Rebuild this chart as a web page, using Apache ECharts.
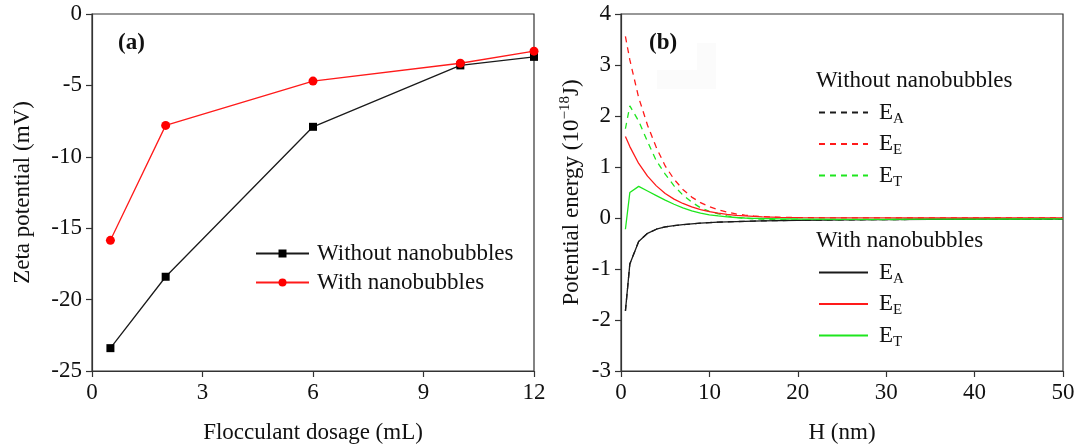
<!DOCTYPE html>
<html>
<head>
<meta charset="utf-8">
<script src="https://cdn.jsdelivr.net/npm/echarts@6/dist/echarts.min.js"></script>
<style>
  html, body { margin: 0; padding: 0; background: #fff; }
  #chart { width: 1081px; height: 446px; }
</style>
</head>
<body>
<div id="chart"></div>
<script>
// Panel (a): zeta potential against flocculant dosage
const dosage = [0.5, 2, 6, 10, 12];
const zetaWithout = [-23.4, -18.4, -7.9, -3.6, -3.0];
const zetaWith = [-15.85, -7.8, -4.7, -3.45, -2.6];

// Panel (b): interaction energy (1e-18 J) against separation H (nm)
const H = [0.5, 1, 2, 3, 4, 5, 6, 7, 8, 9, 10, 11, 12, 13, 14, 15, 16, 18, 20, 25, 30, 35, 40, 45, 50];
// van der Waals attraction, same for both cases
const eaWithout = [-1.82, -0.9, -0.46, -0.3, -0.22, -0.175, -0.15, -0.13, -0.115, -0.1, -0.09, -0.082, -0.076, -0.07, -0.065, -0.06, -0.056, -0.05, -0.045, -0.037, -0.031, -0.027, -0.023, -0.021, -0.019];
const eeWithout = [3.56, 3.1, 2.36, 1.82, 1.38, 1.02, 0.76, 0.56, 0.41, 0.3, 0.22, 0.16, 0.115, 0.08, 0.056, 0.04, 0.028, 0.014, 0.007, 0.002, 0.001, 0, 0, 0, 0];
const etWithout = [1.75, 2.2, 1.9, 1.5, 1.12, 0.86, 0.63, 0.45, 0.31, 0.2, 0.13, 0.08, 0.04, 0.012, -0.006, -0.016, -0.024, -0.033, -0.036, -0.034, -0.03, -0.027, -0.023, -0.021, -0.019];
const eaWith = [-1.82, -0.9, -0.46, -0.3, -0.22, -0.175, -0.15, -0.13, -0.115, -0.1, -0.09, -0.082, -0.076, -0.07, -0.065, -0.06, -0.056, -0.05, -0.045, -0.037, -0.031, -0.027, -0.023, -0.021, -0.019];
const eeWith = [1.6, 1.4, 1.07, 0.82, 0.63, 0.48, 0.37, 0.285, 0.22, 0.165, 0.125, 0.095, 0.07, 0.052, 0.04, 0.03, 0.022, 0.012, 0.007, 0.002, 0.001, 0, 0, 0, 0];
const etWith = [-0.22, 0.5, 0.62, 0.53, 0.44, 0.35, 0.27, 0.2, 0.14, 0.095, 0.06, 0.04, 0.022, 0.01, 0, -0.006, -0.01, -0.016, -0.02, -0.025, -0.025, -0.023, -0.021, -0.02, -0.019];

const FONT = '"Liberation Serif", "Times New Roman", serif';
const AXIS_COLOR = '#333';
const RED = '#ff1a1a';
const GREEN = '#1ee61e';
const BLACK = '#1a1a1a';

const pair = (xs, ys) => xs.map((x, i) => [x, ys[i]]);

function axisCommon(extra) {
  return Object.assign({
    type: 'value',
    splitLine: { show: false },
    axisLine: { show: true, onZero: false, lineStyle: { color: AXIS_COLOR, width: 1.2 } },
    axisTick: { show: true, inside: false, length: 6, lineStyle: { color: AXIS_COLOR, width: 1.2 } },
    axisLabel: { color: '#111', fontFamily: FONT, fontSize: 23, margin: 10 },
    nameTextStyle: { color: '#111', fontFamily: FONT, fontSize: 23 },
    nameLocation: 'middle'
  }, extra);
}

const subRich = {
  e: { fontFamily: FONT, fontSize: 23, color: '#111', lineHeight: 28, verticalAlign: 'middle' },
  s: { fontFamily: FONT, fontSize: 15, color: '#111', lineHeight: 28, verticalAlign: 'bottom' }
};
const subLabel = { 'A': '{e|E}{s|A}', 'E': '{e|E}{s|E}', 'T': '{e|E}{s|T}' };

// legend entries of panel (b) show only the line sample, no marker
const energyLegend = (top, names) => ({
  orient: 'vertical', left: 813, top: top,
  itemWidth: 49, itemHeight: 10, itemGap: 6,
  itemStyle: { opacity: 0 },
  formatter: n => subLabel[n.slice(-1)],
  textStyle: { padding: [0, 0, 0, 6], rich: subRich },
  data: names
});

const gridBox = left => ({
  left: left, top: 14, width: 442, height: 357,
  outerBoundsMode: 'none', containLabel: false,
  show: true, borderColor: AXIS_COLOR, borderWidth: 1.2, backgroundColor: 'transparent'
});

const chart = echarts.init(document.getElementById('chart'), null, { renderer: 'canvas' });

chart.setOption({
  backgroundColor: '#fff',
  animation: false,
  grid: [gridBox(92), gridBox(621)],
  xAxis: [
    axisCommon({ gridIndex: 0, min: 0, max: 12, interval: 3, name: 'Flocculant dosage (mL)', nameGap: 50 }),
    axisCommon({ gridIndex: 1, min: 0, max: 50, interval: 10, name: 'H (nm)', nameGap: 50 })
  ],
  yAxis: [
    axisCommon({ gridIndex: 0, min: -25, max: 0, interval: 5, name: 'Zeta potential (mV)', nameGap: 58 }),
    axisCommon({
      gridIndex: 1, min: -3, max: 4, interval: 1, nameGap: 35,
      name: 'Potential energy (10{sup|\u221218}J)',
      nameTextStyle: {
        color: '#111', fontFamily: FONT, fontSize: 23,
        rich: {
          sup: { fontFamily: FONT, fontSize: 15, color: '#111', verticalAlign: 'top', lineHeight: 28 }
        }
      }
    })
  ],
  legend: [
    {
      orient: 'vertical', left: 250, top: 236,
      itemWidth: 53, itemHeight: 10, itemGap: 4,
      textStyle: { fontFamily: FONT, fontSize: 23, color: '#111', lineHeight: 25, padding: [0, 0, 0, 3] },
      data: ['Without nanobubbles', 'With nanobubbles']
    },
    energyLegend(96, ['Without EA', 'Without EE', 'Without ET']),
    energyLegend(256, ['With EA', 'With EE', 'With ET'])
  ],
  graphic: [
    {
      type: 'polygon', silent: true, z: -1,
      shape: { points: [[657, 70], [697, 70], [697, 43], [716, 43], [716, 89], [657, 89]] },
      style: { fill: '#fbfbfb' }
    },
    { type: 'text', left: 118, top: 32, style: { text: '(a)', font: 'bold 23px ' + FONT, fill: '#111' } },
    { type: 'text', left: 649, top: 32, style: { text: '(b)', font: 'bold 23px ' + FONT, fill: '#111' } },
    { type: 'text', left: 816, top: 69, style: { text: 'Without nanobubbles', font: '23px ' + FONT, fill: '#111' } },
    { type: 'text', left: 816, top: 229, style: { text: 'With nanobubbles', font: '23px ' + FONT, fill: '#111' } }
  ],
  series: [
    {
      name: 'Without nanobubbles', type: 'line', xAxisIndex: 0, yAxisIndex: 0,
      data: pair(dosage, zetaWithout),
      symbol: 'rect', symbolSize: 8,
      lineStyle: { color: BLACK, width: 1.3 }, itemStyle: { color: '#000' }
    },
    {
      name: 'With nanobubbles', type: 'line', xAxisIndex: 0, yAxisIndex: 0,
      data: pair(dosage, zetaWith),
      symbol: 'circle', symbolSize: 9,
      lineStyle: { color: RED, width: 1.3 }, itemStyle: { color: '#ff0000' }
    },
    {
      name: 'Without EA', type: 'line', xAxisIndex: 1, yAxisIndex: 1, data: pair(H, eaWithout),
      symbol: 'none', lineStyle: { color: BLACK, width: 1.3, type: [6, 5] }, itemStyle: { color: BLACK }
    },
    {
      name: 'Without EE', type: 'line', xAxisIndex: 1, yAxisIndex: 1, data: pair(H, eeWithout),
      symbol: 'none', lineStyle: { color: RED, width: 1.3, type: [6, 5] }, itemStyle: { color: RED }
    },
    {
      name: 'Without ET', type: 'line', xAxisIndex: 1, yAxisIndex: 1, data: pair(H, etWithout),
      symbol: 'none', lineStyle: { color: GREEN, width: 1.3, type: [6, 5] }, itemStyle: { color: GREEN }
    },
    {
      name: 'With EA', type: 'line', xAxisIndex: 1, yAxisIndex: 1, data: pair(H, eaWith),
      symbol: 'none', lineStyle: { color: BLACK, width: 1.3 }, itemStyle: { color: BLACK }
    },
    {
      name: 'With EE', type: 'line', xAxisIndex: 1, yAxisIndex: 1, data: pair(H, eeWith),
      symbol: 'none', lineStyle: { color: RED, width: 1.3 }, itemStyle: { color: RED }
    },
    {
      name: 'With ET', type: 'line', xAxisIndex: 1, yAxisIndex: 1, data: pair(H, etWith),
      symbol: 'none', lineStyle: { color: GREEN, width: 1.3 }, itemStyle: { color: GREEN }
    }
  ]
});
</script>
</body>
</html>
